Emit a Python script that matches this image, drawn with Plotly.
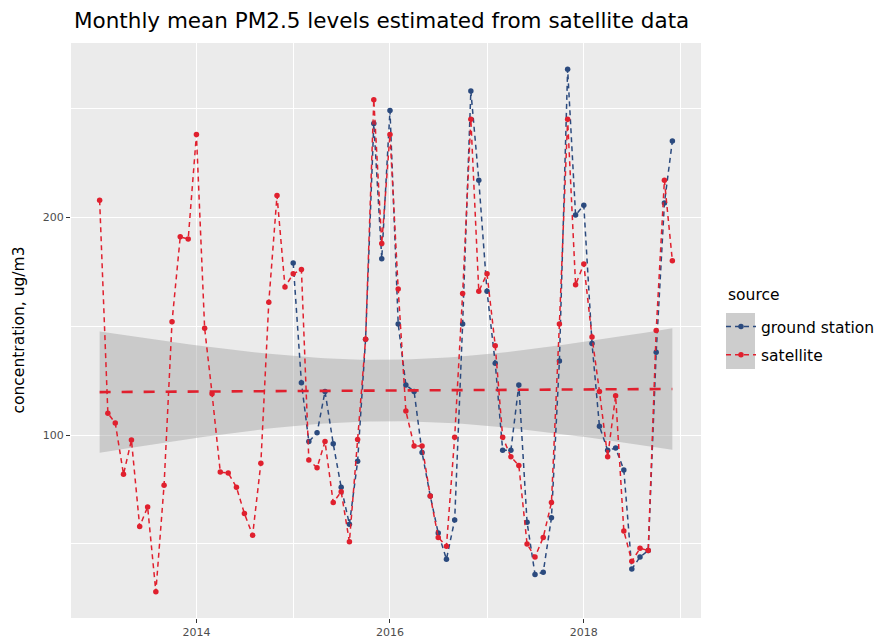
import numpy as np
import pandas as pd
import plotly.graph_objects as go

# ---------------- data ----------------
sat_start = "2013-01-01"
satellite = [207.8, 110, 105.5, 82, 97.7, 58, 67, 28, 77, 152, 191, 190,
             238, 149, 119, 83, 82.6, 76, 64, 54, 87, 161, 210, 168,
             174, 176, 88.5, 85, 97, 69, 74, 51, 98, 144, 254, 188,
             238, 167, 111, 95, 95, 72, 53, 49, 99, 165, 245, 166,
             174, 141, 99, 90, 86, 50, 44, 53, 69, 151, 245, 169,
             178.5, 145, 120, 90, 118, 56, 42, 48, 47, 148, 217, 180]
gs_start = "2015-01-01"
ground_station = [179, 124, 97, 101, 120, 96, 76, 59, 88, 144, 243, 181,
                  249, 151, 123, 120, 92, 72, 55, 43, 61, 151, 258, 217,
                  166, 133, 93, 93, 123, 60, 36, 37, 62, 134, 268, 201,
                  205.5, 142, 104, 93, 94, 84, 38.5, 44, 47, 138, 206.5, 235]
x_tick_vals = ["2014-01-01", "2016-01-01", "2018-01-01"]
x_tick_text = ["2014", "2016", "2018"]
x_minor_vals = ["2015-01-01", "2017-01-01", "2019-01-01"]
y_tick_vals = [100, 200]
y_minor_vals = [50, 150, 250]
series_names = ["ground station", "satellite"]

RED = "#E0202E"
BLUE = "#2B4A7E"
FONT = "DejaVu Sans, Liberation Sans, Arial, sans-serif"

sat_dates = pd.date_range(sat_start, periods=len(satellite), freq="MS")
gs_dates = pd.date_range(gs_start, periods=len(ground_station), freq="MS")

# ---------------- linear smooth with 95% CI (satellite) ----------------
xs = (sat_dates - sat_dates[0]).days.values.astype(float)
ys = np.array(satellite, dtype=float)
n = len(xs)
b, a = np.polyfit(xs, ys, 1)
resid = ys - (a + b * xs)
s = np.sqrt(np.sum(resid ** 2) / (n - 2))
xbar = xs.mean()
sxx = np.sum((xs - xbar) ** 2)
t975 = 1.994  # t quantile, df = 70
grid_days = np.linspace(xs.min(), xs.max(), 80)
fit = a + b * grid_days
se = s * np.sqrt(1.0 / n + (grid_days - xbar) ** 2 / sxx)
lo = fit - t975 * se
hi = fit + t975 * se
grid_dates = sat_dates[0] + pd.to_timedelta(grid_days, unit="D")

# ---------------- figure ----------------
W, H = 894, 638
ML, MR, MT, MB = 71, 193, 43, 20
PW, PH = W - ML - MR, H - MT - MB


def px_x(p):
    return (p - ML) / PW


def px_y(p):
    return (H - MB - p) / PH


fig = go.Figure()

# ribbon
fig.add_trace(go.Scatter(x=list(grid_dates) + list(grid_dates[::-1]),
                         y=list(hi) + list(lo[::-1]),
                         fill="toself", fillcolor="rgba(153,153,153,0.4)",
                         line=dict(width=0), hoverinfo="skip", showlegend=False))

fig.add_trace(go.Scatter(x=gs_dates, y=ground_station, mode="lines+markers",
                         name=series_names[0], legendgroup="g1",
                         line=dict(color=BLUE, width=1.5, dash="5px,4px"),
                         marker=dict(color=BLUE, size=5.5)))
fig.add_trace(go.Scatter(x=sat_dates, y=satellite, mode="lines+markers",
                         name=series_names[1], legendgroup="g2",
                         line=dict(color=RED, width=1.5, dash="5px,4px"),
                         marker=dict(color=RED, size=5.5)))

# smooth line
fig.add_trace(go.Scatter(x=grid_dates, y=fit, mode="lines",
                         line=dict(color=RED, width=2.6, dash="11px,11px"),
                         hoverinfo="skip", showlegend=False))

span = sat_dates[-1] - sat_dates[0]
xr = [sat_dates[0] - 0.05 * span, sat_dates[-1] + 0.05 * span]

# legend key backgrounds
shapes = []
for top in (313, 341):
    shapes.append(dict(type="rect", xref="paper", yref="paper",
                       x0=px_x(726), x1=px_x(755), y0=px_y(top + 28), y1=px_y(top),
                       fillcolor="#CDCDCD", line=dict(width=0), layer="below"))

fig.update_layout(
    width=W, height=H,
    margin=dict(l=ML, r=MR, t=MT, b=MB),
    paper_bgcolor="white", plot_bgcolor="#EBEBEB",
    font=dict(family=FONT, color="black"),
    title=dict(text="Monthly mean PM2.5 levels estimated from satellite data",
               x=px_x(74), xref="paper", xanchor="left", y=1 - 20 / H, yanchor="middle",
               font=dict(size=21.5, color="black")),
    legend=dict(font=dict(size=15.5), x=px_x(721), xanchor="left",
                y=px_y(310), yanchor="top", bgcolor="rgba(0,0,0,0)",
                tracegroupgap=5),
    showlegend=True,
    shapes=shapes,
    annotations=[dict(text="concentration, ug/m3", textangle=-90,
                      xref="paper", yref="paper", x=px_x(18), y=0.5,
                      xanchor="center", yanchor="middle", showarrow=False,
                      font=dict(size=15.5, color="black")),
                 dict(text="source", xref="paper", yref="paper",
                      x=px_x(726), y=px_y(295), xanchor="left", yanchor="middle",
                      showarrow=False, font=dict(size=15.5, color="black"))],
)
fig.update_xaxes(type="date", range=xr, tickvals=x_tick_vals, ticktext=x_tick_text,
                 showgrid=True, gridcolor="white", gridwidth=1.2, automargin=False,
                 ticks="outside", ticklen=4, tickcolor="#333333",
                 tickfont=dict(size=11, color="#4D4D4D"), zeroline=False,
                 minor=dict(tickvals=x_minor_vals, showgrid=True, gridcolor="white",
                            gridwidth=0.6, ticks=""))
fig.update_yaxes(range=[16, 280], tickvals=y_tick_vals, automargin=False,
                 showgrid=True, gridcolor="white", gridwidth=1.2,
                 ticks="outside", ticklen=4, tickcolor="#333333",
                 tickfont=dict(size=11, color="#4D4D4D"), zeroline=False,
                 minor=dict(tickvals=y_minor_vals, showgrid=True, gridcolor="white",
                            gridwidth=0.6, ticks=""))

fig.write_html("out.html")
